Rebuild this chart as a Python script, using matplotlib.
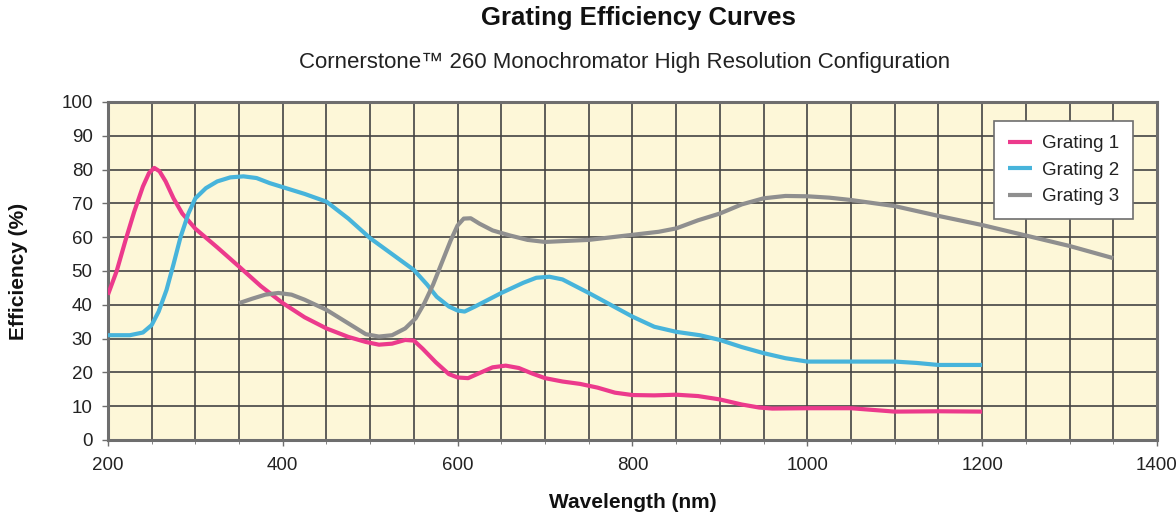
"""Grating efficiency curves - Cornerstone 260 high resolution configuration"""
import matplotlib
matplotlib.use('Agg')
import matplotlib.pyplot as plt
from matplotlib.ticker import MultipleLocator

plt.rcParams['font.family'] = ['Liberation Sans', 'DejaVu Sans']

# Values (wavelength nm, efficiency %)
g1_nm = [200, 210, 220, 230, 240, 247, 253, 259, 266, 275, 285, 300, 325, 350, 375, 400, 425,
         450, 475, 495, 510, 525, 540, 550, 560, 575, 590, 600, 612, 625, 640, 655, 670, 685,
         700, 720, 740, 760, 780, 800, 825, 850, 875, 900, 925, 945, 960, 1000, 1050, 1075,
         1100, 1150, 1200]
g1_eff = [43, 50, 59, 67.5, 75, 79, 80.5, 79.5, 76.5, 71.5, 67, 62.5, 57, 51.3, 45.5, 40.5, 36.3,
          33, 30.5, 29, 28.2, 28.5, 29.6, 29.4, 27, 23, 19.5, 18.5, 18.3, 19.8, 21.5, 22, 21.3,
          19.7, 18.3, 17.3, 16.6, 15.5, 14, 13.3, 13.2, 13.4, 13, 12, 10.5, 9.6, 9.3, 9.4, 9.4,
          8.9, 8.4, 8.5, 8.4]

g2_nm = [200, 225, 240, 250, 258, 267, 275, 283, 292, 300, 312, 325, 340, 355, 370, 385, 400,
         425, 450, 475, 500, 525, 550, 565, 576, 590, 600, 608, 620, 635, 650, 675, 690, 705,
         720, 735, 750, 775, 800, 825, 850, 877, 900, 925, 950, 975, 1000, 1050, 1100, 1125,
         1150, 1200]
g2_eff = [31, 31, 31.8, 34, 38, 44.4, 52, 60, 67, 71.5, 74.5, 76.5, 77.7, 78, 77.5, 76, 74.8,
          72.8, 70.5, 65.5, 59.7, 55, 50.3, 46, 42.4, 39.5, 38.3, 38, 39.5, 41.5, 43.5, 46.5, 48,
          48.3, 47.5, 45.5, 43.5, 40, 36.5, 33.5, 32, 31, 29.6, 27.5, 25.7, 24.2, 23.2, 23.2,
          23.2, 22.8, 22.2, 22.2]

g3_nm = [350, 365, 380, 395, 410, 425, 450, 475, 495, 510, 525, 540, 552, 562, 572, 582, 592,
         600, 607, 615, 625, 640, 660, 680, 700, 750, 800, 830, 850, 875, 900, 925, 950, 975,
         1000, 1025, 1050, 1100, 1150, 1200, 1250, 1300, 1350]
g3_eff = [40.5, 41.8, 43, 43.5, 43, 41.5, 38.5, 34.5, 31.3, 30.6, 31, 33, 36, 40.5, 46, 52.5, 59,
          63.5, 65.5, 65.6, 64, 62, 60.5, 59.2, 58.6, 59.2, 60.7, 61.6, 62.6, 65, 67, 69.7, 71.5,
          72.2, 72.1, 71.7, 71, 69.2, 66.3, 63.6, 60.5, 57.4, 53.8]

series = [('Grating 1', g1_nm, g1_eff, '#EC3A8C'),
          ('Grating 2', g2_nm, g2_eff, '#47B4DB'),
          ('Grating 3', g3_nm, g3_eff, '#8F8F8F')]

fig = plt.figure(figsize=(11.76, 5.23), dpi=100)
ax = fig.add_axes([0.0918, 0.1587, 0.8920, 0.6463])
ax.set_facecolor('#FDF7D8')

for label, x, y, c in series:
    ax.plot(x, y, color=c, lw=3.0, label=label, solid_joinstyle='round',
            solid_capstyle='butt', zorder=3)

ax.set_xlim(200, 1400)
ax.set_ylim(0, 100)
ax.xaxis.set_major_locator(MultipleLocator(200))
ax.xaxis.set_minor_locator(MultipleLocator(50))
ax.yaxis.set_major_locator(MultipleLocator(10))
ax.grid(which='both', color='#444444', lw=1.2, zorder=1)
ax.set_axisbelow(True)
for s in ax.spines.values():
    s.set_color('#6E6E6E')
    s.set_linewidth(2.2)

ax.tick_params(axis='both', which='major', labelsize=13.5, length=4, width=1,
               color='#6E6E6E', labelcolor='#222222')
ax.tick_params(axis='x', which='minor', length=3, color='#6E6E6E')
ax.tick_params(axis='x', pad=8)
ax.tick_params(axis='y', pad=7)

ax.set_xlabel('Wavelength (nm)', fontsize=15, fontweight='bold', labelpad=14, color='#111111')
ax.set_ylabel('Efficiency (%)', fontsize=15, fontweight='bold', labelpad=24, color='#111111')

fig.text(0.543, 0.965, 'Grating Efficiency Curves', ha='center', va='center',
         fontsize=18.5, fontweight='bold', color='#111111')
fig.text(0.531, 0.881, 'Cornerstone\u2122 260 Monochromator High Resolution Configuration',
         ha='center', va='center', fontsize=16, color='#222222')

leg = ax.legend(loc='upper right', bbox_to_anchor=(0.977, 0.944), fontsize=13.5,
                handlelength=1.3, handletextpad=0.5, labelspacing=0.5,
                borderpad=0.75, borderaxespad=0, fancybox=False, framealpha=1,
                edgecolor='#6E6E6E')
leg.get_frame().set_linewidth(1.2)
for t in leg.get_texts():
    t.set_color('#222222')

fig.savefig('out.png', dpi=100)
